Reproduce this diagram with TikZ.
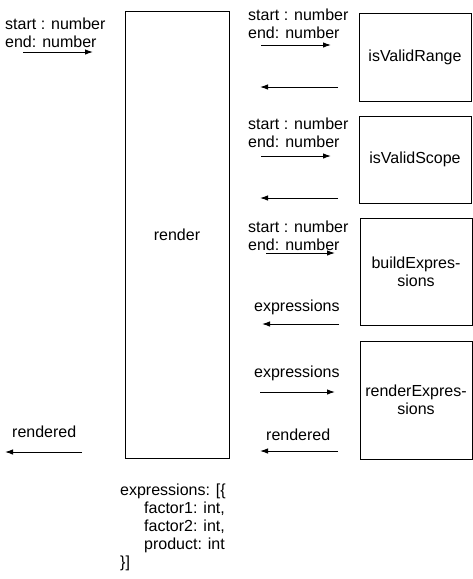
\documentclass[tikz,border=0pt]{standalone}
\usepackage{fontspec}
\setmainfont{Liberation Sans}
\usepackage{tikz}
\usetikzlibrary{arrows.meta}

\tikzset{
  box/.style={draw, line width=1pt, inner sep=0pt, align=center},
  lbl/.style={inner sep=0pt, align=left, anchor=base west},
  flow/.style={line width=1pt, -{Latex[length=8pt,width=5.5pt]}},
}

\begin{document}
\begin{tikzpicture}[x=1pt,y=-1pt,font=\fontsize{16}{18}\selectfont]
            \useasboundingbox (0,0) rectangle (473,579);
            % boxes
            \node[box,minimum width=104pt,minimum height=447pt] (render) at (177,234.5){render};
            \node[box,minimum width=112pt,minimum height=88pt] (range) at (415,57){isValidRange};
            \node[box,minimum width=112pt,minimum height=87pt] (scope) at (415,159.5){isValidScope};
            \node[box,minimum width=112pt,minimum height=107pt] (build) at (416,271.5){buildExpres-\\sions};
            \node[box,minimum width=112pt,minimum height=118pt] (renderexp) at (416,400){renderExpres-\\sions};

            % input / output of render
            \node[lbl] (in) at (5,47){start : number\\end: number};
            \coordinate (in1) at (23,52);
            \coordinate (in2) at (93,52);
            \draw[flow] (in1) -- (in2);
            \node[lbl] (out) at (12,437){rendered};
            \coordinate (out1) at (82,452);
            \coordinate (out2) at (5,452);
            \draw[flow] (out1) -- (out2);

            % isValidRange
            \node[lbl] (rangein) at (248,38){start : number\\end: number};
            \coordinate (r1) at (261,45);
            \coordinate (r2) at (331,45);
            \coordinate (r3) at (338,87);
            \coordinate (r4) at (260,87);
            \draw[flow] (r1) -- (r2);
            \draw[flow] (r3) -- (r4);

            % isValidScope
            \node[lbl] (scopein) at (248,147){start : number\\end: number};
            \coordinate (s1) at (261,156);
            \coordinate (s2) at (331,156);
            \coordinate (s3) at (338,198);
            \coordinate (s4) at (260,198);
            \draw[flow] (s1) -- (s2);
            \draw[flow] (s3) -- (s4);

            % buildExpressions
            \node[lbl] (buildin) at (248,250){start : number\\end: number};
            \coordinate (b1) at (266,253);
            \coordinate (b2) at (335,253);
            \node[lbl] (buildout) at (254,311){expressions};
            \coordinate (b3) at (339,324);
            \coordinate (b4) at (262,324);
            \draw[flow] (b1) -- (b2);
            \draw[flow] (b3) -- (b4);

            % renderExpressions
            \node[lbl] (renderin) at (254,377){expressions};
            \coordinate (e1) at (260,392);
            \coordinate (e2) at (335,392);
            \node[lbl] (renderout) at (266,440){rendered};
            \coordinate (e3) at (338,451);
            \coordinate (e4) at (260,451);
            \draw[flow] (e1) -- (e2);
            \draw[flow] (e3) -- (e4);

            % data shape
            \node[lbl] (data) at (120,567){expressions: [\{\\
              \hspace*{24pt}factor1: int,\\
              \hspace*{24pt}factor2: int,\\
              \hspace*{24pt}product: int\\
              \}]};
\end{tikzpicture}
\end{document}
